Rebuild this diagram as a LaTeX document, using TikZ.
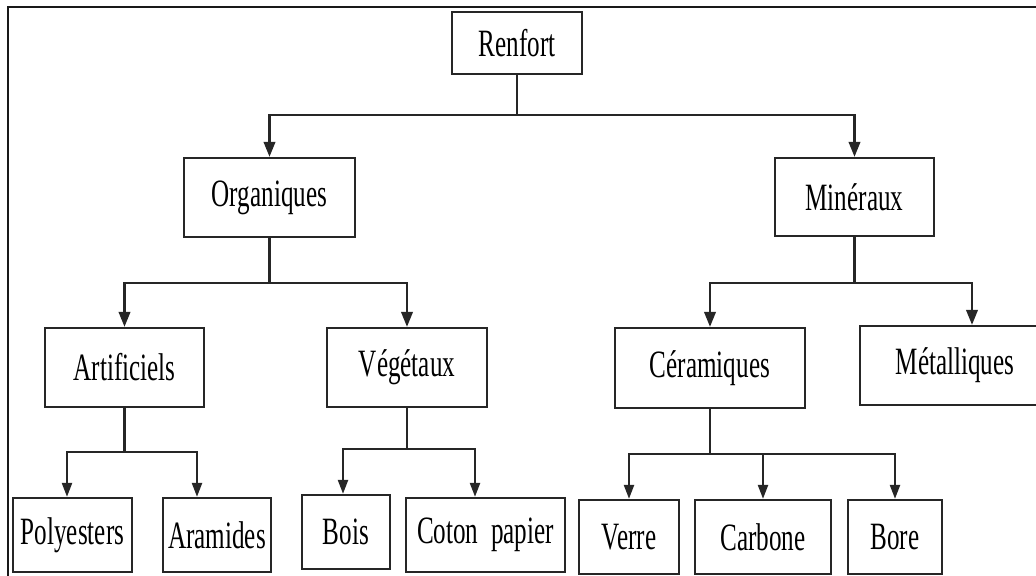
\documentclass[tikz,border=0pt]{standalone}
\usepackage{fontspec}
\usepackage{tikz}
\usetikzlibrary{calc,arrows.meta,positioning}
\newfontfamily\etiq[FakeStretch=0.65]{Liberation Serif}
\tikzstyle{every node}=[font=\etiq\fontsize{22}{26}\selectfont,text=black]
\tikzstyle{boite}=[draw=black!85,line width=1.3pt,rectangle,inner sep=0pt]
\tikzstyle{fleche}=[-{Triangle[length=0.3cm,width=0.23cm]},draw=black!85,line width=1.3pt]
\tikzstyle{trait}=[-,draw=black!85,line width=1.3pt]

\begin{document}
\begin{tikzpicture}
          \useasboundingbox (0,0) rectangle (20.72,-11.52);
          \clip (0,0) rectangle (20.72,-11.52);
          % cadre
          \draw[black!90,line width=1.6pt] (0.16,-12) |- (21.2,-0.14);

          % racine
          \node[boite,minimum width=2.6cm,minimum height=1.24cm] (ren) at (10.34,-0.86) {Renfort};

          % second niveau
          \node[boite,minimum width=3.42cm,minimum height=1.58cm] (org) at (5.39,-3.95) {Organiques};
          \node[boite,minimum width=3.18cm,minimum height=1.56cm] (min) at (17.09,-3.94) {Minéraux};

          % troisieme niveau
          \node[boite,minimum width=3.18cm,minimum height=1.58cm] (art) at (2.49,-7.35) {Artificiels};
          \node[boite,minimum width=3.2cm,minimum height=1.58cm] (veg) at (8.14,-7.35) {Végétaux};
          \node[boite,minimum width=3.8cm,minimum height=1.6cm] (cer) at (14.2,-7.36) {Céramiques};
          \node[boite,minimum width=3.8cm,minimum height=1.58cm] (met) at (19.1,-7.31) {Métalliques};

          % feuilles
          \node[boite,minimum width=2.38cm,minimum height=1.48cm] (pol) at (1.45,-10.7) {Polyesters};
          \node[boite,minimum width=2.16cm,minimum height=1.48cm] (ara) at (4.34,-10.7) {Aramides};
          \node[boite,minimum width=1.76cm,minimum height=1.48cm] (boi) at (6.92,-10.64) {Bois};
          \node[boite,minimum width=3.18cm,minimum height=1.48cm] (cot) at (9.71,-10.7) {Coton\ \ papier};
          \node[boite,minimum width=2.0cm,minimum height=1.48cm] (ver) at (12.58,-10.74) {Verre};
          \node[boite,minimum width=2.72cm,minimum height=1.48cm] (car) at (15.26,-10.74) {Carbone};
          \node[boite,minimum width=1.88cm,minimum height=1.48cm] (bor) at (17.9,-10.74) {Bore};

          % jonctions
          \coordinate (j0) at (10.34,-2.3);
          \coordinate (j1) at (5.39,-5.66);
          \coordinate (j2) at (17.09,-5.66);
          \coordinate (j3) at (2.49,-9.04);
          \coordinate (j4) at (8.14,-8.98);
          \coordinate (j5) at (14.2,-9.08);

          \draw[trait] (ren.south) -- (j0);
          \draw[trait] (org.south) -- (j1);
          \draw[trait] (min.south) -- (j2);
          \draw[trait] (art.south) -- (j3);
          \draw[trait] (veg.south) -- (j4);
          \draw[trait] (cer.south) -- (j5);

          \draw[fleche] (j0) -| (org.north);
          \draw[fleche] (j0) -| (min.north);
          \draw[fleche] (j1) -| (art.north);
          \draw[fleche] (j1) -| (veg.north);
          \draw[fleche] (j2) -| (cer.north);
          \draw[fleche] (j2) -| ([xshift=0.34cm]met.north);

          \tikzstyle{fleche}=[-{Triangle[length=0.28cm,width=0.2cm]},draw=black!85,line width=1.3pt]
          \draw[fleche] (j3) -| ([xshift=-0.11cm]pol.north);
          \draw[fleche] (j3) -| ([xshift=-0.4cm]ara.north);
          \draw[fleche] (j4) -| ([xshift=-0.06cm]boi.north);
          \draw[fleche] (j4) -| ([xshift=-0.21cm]cot.north);
          \foreach \x in {ver,car,bor}{
            \draw[fleche] (j5) -| (\x.north);
          }
        \end{tikzpicture}
\end{document}
